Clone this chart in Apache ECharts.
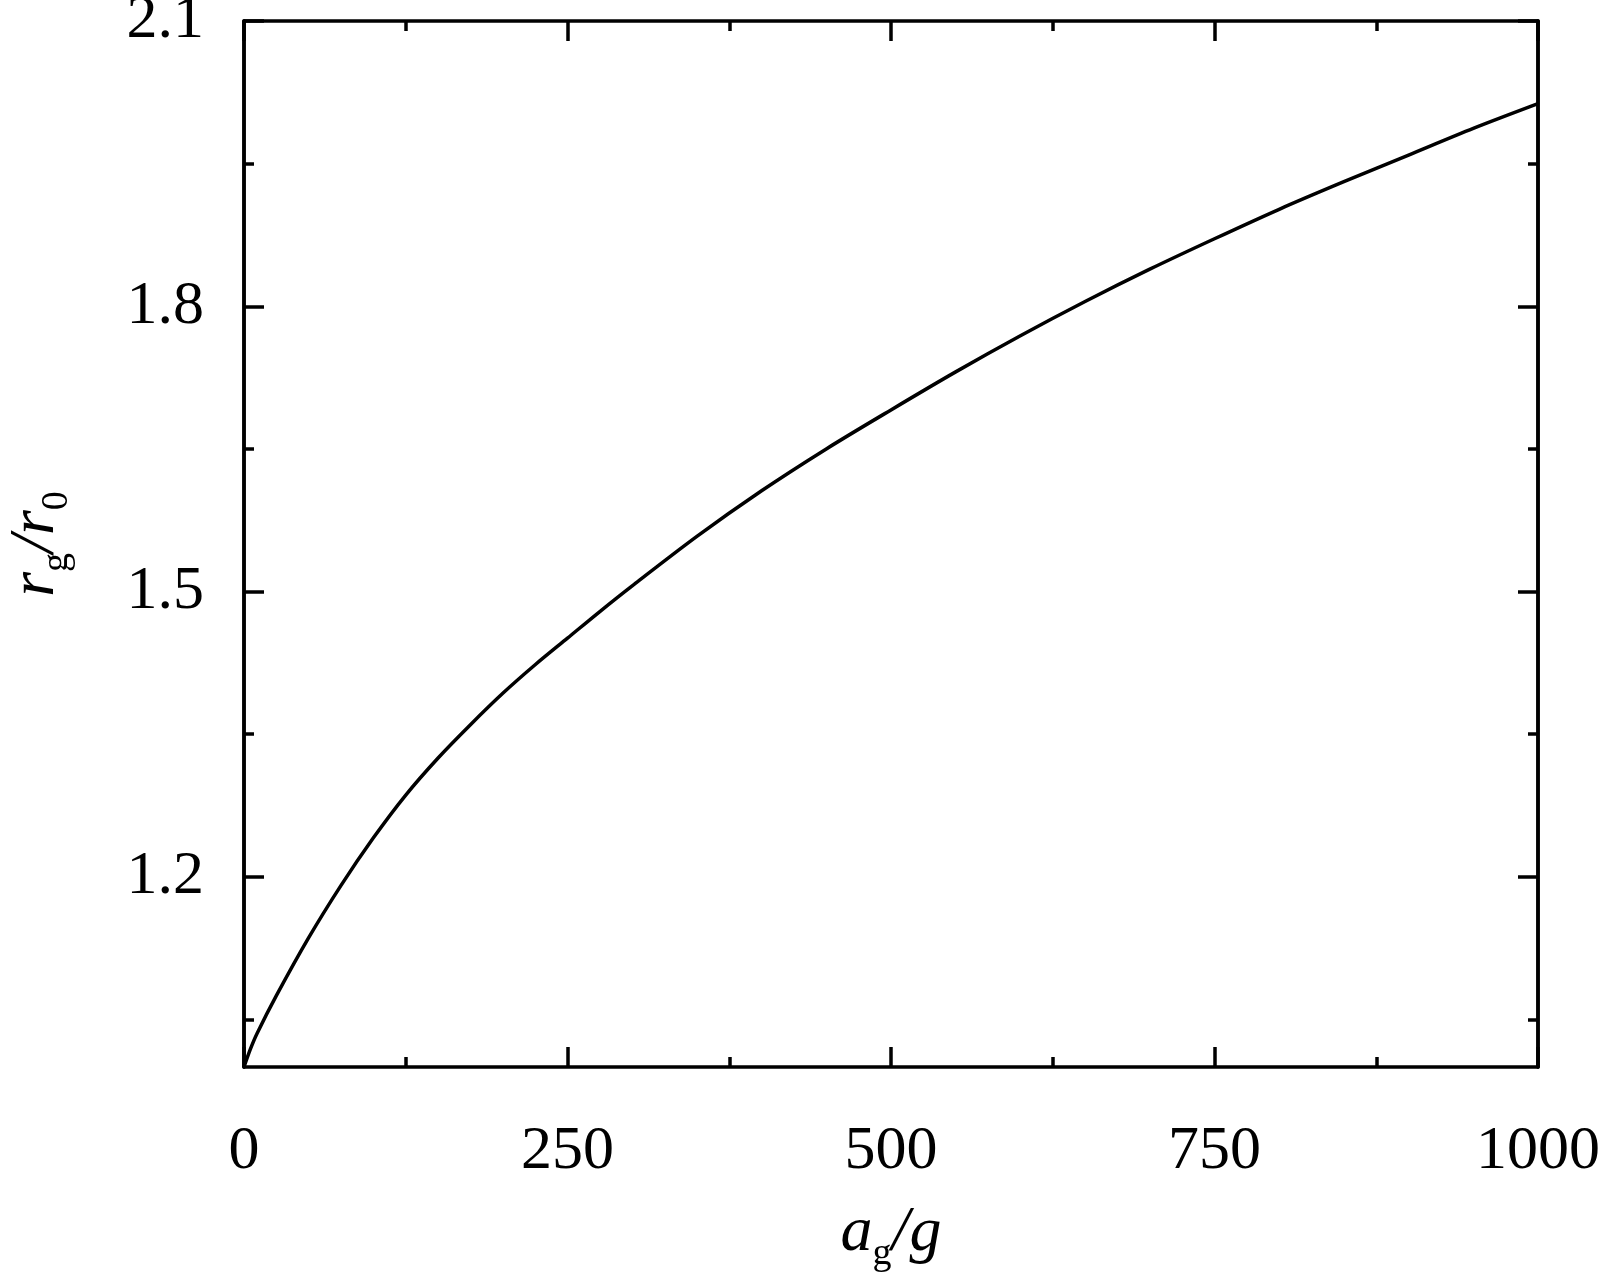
<!DOCTYPE html>
<html style="height: 100%">
<head>
    <meta charset="UTF-8">
    <script src="https://cdn.jsdelivr.net/npm/echarts@6/dist/echarts.min.js"></script>
</head>
<body style="height: 100%; margin: 0; background: #fff">
    <div id="main" style="width: 1603px; height: 1272px;"></div>
    <script type="text/javascript">
        // a_g/g values and r_g/r_0
        var agValues = [0, 5, 10, 25, 50, 75, 100, 125, 150, 175, 200, 225, 250, 275, 300, 350,
            400, 450, 500, 550, 600, 650, 700, 750, 800, 850, 900, 950, 1000];
        var rgValues = [1.000, 1.019, 1.035, 1.075, 1.136, 1.191, 1.241, 1.286, 1.325, 1.360, 1.393,
            1.423, 1.451, 1.479, 1.506, 1.558, 1.606, 1.650, 1.691, 1.731, 1.769, 1.805, 1.839,
            1.871, 1.902, 1.931, 1.959, 1.987, 2.013];
        var yMajorTicks = [1.2, 1.5, 1.8, 2.1];
        var yMinorTicks = [1.05, 1.35, 1.65, 1.95];

        var font = '"Liberation Serif", "Times New Roman", serif';
        var black = '#000';

        var myChart = echarts.init(document.getElementById('main'));

        var curve = agValues.map(function (x, i) { return [x, rgValues[i]]; });

        function xAxisBase(pos, withLabel) {
            return {
                type: 'value', position: pos, min: 0, max: 1000, interval: 250,
                axisLine: { show: true, onZero: false, lineStyle: { color: black, width: 3.5 } },
                axisTick: { show: true, inside: true, length: 20, lineStyle: { color: black, width: 3.5 } },
                minorTick: { show: true, splitNumber: 2, length: 10, lineStyle: { color: black, width: 3.5 } },
                splitLine: { show: false },
                axisLabel: {
                    show: withLabel, margin: 54, fontFamily: font, fontSize: 62, color: black,
                    showMinLabel: true, showMaxLabel: true,
                    formatter: function (v) { return String(v); }
                }
            };
        }

        function yAxisBase(pos, ticks, len, withLabel) {
            return {
                type: 'value', position: pos, min: 1.0, max: 2.1,
                axisLine: { show: true, onZero: false, lineStyle: { color: black, width: 3.5 } },
                axisTick: {
                    show: true, inside: true, length: len, customValues: ticks,
                    lineStyle: { color: black, width: 3.5 }
                },
                splitLine: { show: false },
                axisLabel: {
                    show: withLabel, customValues: ticks, margin: 40, fontFamily: font,
                    fontSize: 62, color: black,
                    formatter: function (v) { return v.toFixed(1); }
                }
            };
        }

        var nameRich = {
            i: { fontFamily: font, fontStyle: 'italic', fontSize: 64, lineHeight: 64,
                 verticalAlign: 'bottom', padding: [0, 0, 8, 0], color: black },
            s: { fontFamily: font, fontSize: 38, lineHeight: 38,
                 verticalAlign: 'bottom', color: black }
        };

        var xBottom = xAxisBase('bottom', true);
        xBottom.name = '{i|a}{s|g}{i|/g}';
        xBottom.nameLocation = 'middle';
        xBottom.nameGap = 142;
        xBottom.nameMoveOverlap = false;
        xBottom.nameTextStyle = { rich: nameRich };

        var yLeft = yAxisBase('left', yMajorTicks, 20, true);
        yLeft.name = '{i|r}{s|g}{i|/r}{s|0}';
        yLeft.nameLocation = 'middle';
        yLeft.nameGap = 168;
        yLeft.nameTextStyle = { rich: nameRich };

        var option = {
            backgroundColor: '#fff',
            animation: false,
            grid: {
                left: 244, right: 65, top: 21, bottom: 205,
                containLabel: false, outerBoundsMode: 'none'
            },
            xAxis: [xBottom, xAxisBase('top', false)],
            yAxis: [
                yLeft,
                yAxisBase('left', yMinorTicks, 10, false),
                yAxisBase('right', yMajorTicks, 20, false),
                yAxisBase('right', yMinorTicks, 10, false)
            ],
            series: [{
                type: 'line',
                data: curve,
                smooth: 0.3,
                showSymbol: false,
                lineStyle: { color: black, width: 3.5 },
                xAxisIndex: 0,
                yAxisIndex: 0
            }]
        };

        myChart.setOption(option);
    </script>
</body>
</html>
